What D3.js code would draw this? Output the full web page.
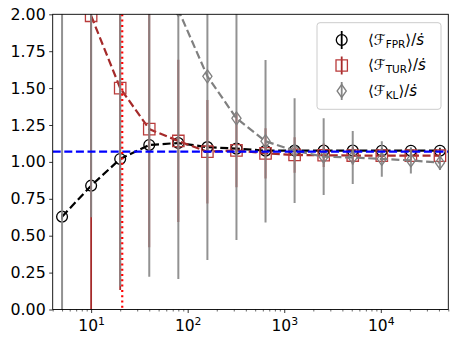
<!DOCTYPE html>
<html><head><meta charset="utf-8">
<script src="https://cdn.jsdelivr.net/npm/d3@7"></script>
<style>body{margin:0;background:#fff}svg{display:block}</style>
</head><body><div id="chart"></div>
<script>
// ---- data ----
const xValues   = [5, 10, 20, 40, 80, 160, 320, 640, 1280, 2560, 5120, 10240, 20480, 40960];
const fprValues = [0.629, 0.839, 1.02, 1.115, 1.128, 1.100, 1.090, 1.076, 1.077, 1.077, 1.077, 1.076, 1.076, 1.076];
const fprErrors = [0.02, 0.02, 0.02, 0.02, 0.02, 0.02, 0.02, 0.02, 0.02, 0.02, 0.02, 0.02, 0.02, 0.02];
const turValues = [null, 1.99, 1.50, 1.222, 1.142, 1.069, 1.078, 1.058, 1.047, 1.045, 1.043, 1.042, 1.042, 1.042];
const turErrors = [null, 2.5, 1.368, 0.8, 0.55, 0.35, 0.25, 0.17, 0.12, 0.08, 0.06, 0.04, 0.03, 0.02];
const klValues  = [10, 6, 4, 2.8, 2.03, 1.58, 1.295, 1.14, 1.076, 1.035, 1.03, 1.02, 1.01, 0.995];
const klErrors  = [12, 5.375, 3.842, 2.578, 1.823, 1.245, 0.824, 0.55, 0.355, 0.26, 0.18, 0.12, 0.088, 0.05];
const refLevel  = 1.07;   // blue dashed horizontal line
const refX      = 21;     // red dotted vertical line
const yTicks    = [0, 0.25, 0.5, 0.75, 1.0, 1.25, 1.5, 1.75, 2.0];
const xTicks    = [10, 100, 1000, 10000];
const xTickExps = ["1", "2", "3", "4"];
const xDomain   = [4, 50000];
const yDomain   = [0, 2];
const legendSubs = ["FPR", "TUR", "KL"];

// ---- layout ----
const W = 457, H = 342;
const M = {left: 52.7, right: 457 - 448.3, top: 14.3, bottom: 342 - 309.5};
const iw = W - M.left - M.right, ih = H - M.top - M.bottom;
const FONT = "DejaVu Sans, sans-serif";

const svg = d3.select("#chart").append("svg").attr("width", W).attr("height", H);
const g = svg.append("g").attr("transform", `translate(${M.left},${M.top})`);

const x = d3.scaleLog().domain(xDomain).range([0, iw]);
const y = d3.scaleLinear().domain(yDomain).range([ih, 0]);

svg.append("defs").append("clipPath").attr("id", "clip")
  .append("rect").attr("width", iw).attr("height", ih);
const plot = g.append("g").attr("clip-path", "url(#clip)");

const colors = {
  fpr: "#000000",
  tur: "#a52a2a", turMarker: "#b93a3a",
  kl: "#808080", klErr: "#868686",
  ref: "#0000ff", vref: "#ff0000"
};
const DASH = "8,3.6";

function rows(vals, errs) {
  return xValues.map((xv, i) => ({x: xv, v: vals[i], e: errs[i]})).filter(d => d.v !== null);
}
const fprData = rows(fprValues, fprErrors);
const turData = rows(turValues, turErrors);
const klData = rows(klValues, klErrors);

function errorbars(data, color, width, opacity) {
  plot.append("g").selectAll("line").data(data).join("line")
    .attr("x1", d => x(d.x)).attr("x2", d => x(d.x))
    .attr("y1", d => y(d.v - d.e)).attr("y2", d => y(d.v + d.e))
    .attr("stroke", color).attr("stroke-width", width).attr("stroke-opacity", opacity);
}
function dashed(data, color) {
  plot.append("path").datum(data)
    .attr("d", d3.line().x(d => x(d.x)).y(d => y(d.v)))
    .attr("fill", "none").attr("stroke", color).attr("stroke-width", 2.2)
    .attr("stroke-dasharray", DASH);
}
const circleSym = d3.symbol().type(d3.symbolCircle).size(Math.PI * 5.4 * 5.4);
function squarePath(s) { return `M${-s},${-s}H${s}V${s}H${-s}Z`; }
function diamondPath(w, h) { return `M0,${-h}L${w},0L0,${h}L${-w},0Z`; }

function markers(data, path, color, width, opacity) {
  plot.append("g").selectAll("path").data(data).join("path")
    .attr("transform", d => `translate(${x(d.x)},${y(d.v)})`)
    .attr("d", path).attr("fill", "none")
    .attr("stroke", color).attr("stroke-width", width).attr("stroke-opacity", opacity);
}

// FPR
errorbars(fprData, colors.fpr, 1.5, 1);
dashed(fprData, colors.fpr);
markers(fprData, circleSym(), colors.fpr, 1.3, 1);
// TUR
errorbars(turData, colors.tur, 1.8, 1);
dashed(turData, colors.tur);
markers(turData, squarePath(5.7), colors.turMarker, 1.3, 1);
// KL
errorbars(klData, colors.klErr, 2, 0.9);
dashed(klData, colors.kl);
markers(klData, diamondPath(4.6, 6.5), colors.kl, 1.3, 1);

// reference lines
plot.append("line").attr("x1", 0).attr("x2", iw).attr("y1", y(refLevel)).attr("y2", y(refLevel))
  .attr("stroke", colors.ref).attr("stroke-width", 2.2).attr("stroke-dasharray", DASH);
plot.append("line").attr("x1", x(refX)).attr("x2", x(refX)).attr("y1", 0).attr("y2", ih)
  .attr("stroke", colors.vref).attr("stroke-width", 2.2).attr("stroke-dasharray", "2,3.3");

// ---- axes ----
const yAxis = g.append("g").call(d3.axisLeft(y).tickValues(yTicks).tickFormat(d3.format(".2f"))
  .tickSize(3.5).tickPadding(3.5));
yAxis.select(".domain").remove();
yAxis.selectAll("text").attr("font-family", FONT).attr("font-size", 15.8).attr("fill", "#000");
yAxis.selectAll("line").attr("stroke", "#000").attr("stroke-width", 0.8);

const minorTicks = [];
for (let p = 0; p <= 4; p++) for (let k = 2; k <= 9; k++) {
  const v = k * Math.pow(10, p);
  if (v >= xDomain[0] && v <= xDomain[1]) minorTicks.push(v);
}
const xMinor = g.append("g").attr("transform", `translate(0,${ih})`)
  .call(d3.axisBottom(x).tickValues(minorTicks).tickFormat("").tickSize(2));
xMinor.select(".domain").remove();
xMinor.selectAll("line").attr("stroke", "#000").attr("stroke-width", 0.6);

const xAxis = g.append("g").attr("transform", `translate(0,${ih})`)
  .call(d3.axisBottom(x).tickValues(xTicks).tickFormat("").tickSize(3.5));
xAxis.select(".domain").remove();
xAxis.selectAll("line").attr("stroke", "#000").attr("stroke-width", 0.8);
xAxis.selectAll(".tick").each(function(d, i) {
  const t = d3.select(this).append("text").attr("y", 21.5).attr("text-anchor", "middle")
    .attr("font-family", FONT).attr("font-size", 15.5).attr("fill", "#000");
  t.append("tspan").text("10");
  t.append("tspan").attr("dy", -6.5).attr("font-size", 10.8).text(xTickExps[i]);
});

// frame
g.append("rect").attr("width", iw).attr("height", ih).attr("fill", "none")
  .attr("stroke", "#000").attr("stroke-width", 0.9);

// ---- legend ----
const lg = svg.append("g").attr("transform", "translate(317,22.7)");
lg.append("rect").attr("width", 124).attr("height", 86.6).attr("rx", 3)
  .attr("fill", "#fff").attr("fill-opacity", 0.8).attr("stroke", "#cccccc").attr("stroke-width", 1);
const legendItems = [
  {sub: legendSubs[0], mcolor: colors.fpr, path: circleSym(), ecolor: colors.fpr},
  {sub: legendSubs[1], mcolor: colors.turMarker, path: squarePath(5.7), ecolor: colors.tur},
  {sub: legendSubs[2], mcolor: colors.kl, path: diamondPath(4.6, 6.5), ecolor: colors.klErr}
];
legendItems.forEach((it, i) => {
  const cy = 17.3 + i * 25.5;
  const row = lg.append("g").attr("transform", `translate(24.7,${cy})`);
  row.append("line").attr("y1", -9).attr("y2", 9).attr("stroke", it.ecolor).attr("stroke-width", 1.8);
  row.append("path").attr("d", it.path).attr("fill", "none").attr("stroke", it.mcolor).attr("stroke-width", 1.3);
  const t = lg.append("text").attr("x", 51).attr("y", cy + 5)
    .attr("font-family", FONT).attr("font-size", 15).attr("fill", "#000");
  t.append("tspan").text("⟨");
  t.append("tspan").attr("font-style", "italic").text("ℱ");
  t.append("tspan").attr("font-size", 10.5).attr("dy", 3).text(it.sub);
  t.append("tspan").attr("dy", -3).text("⟩/");
  t.append("tspan").attr("font-style", "italic").text("ṡ");
});
</script>
</body></html>
